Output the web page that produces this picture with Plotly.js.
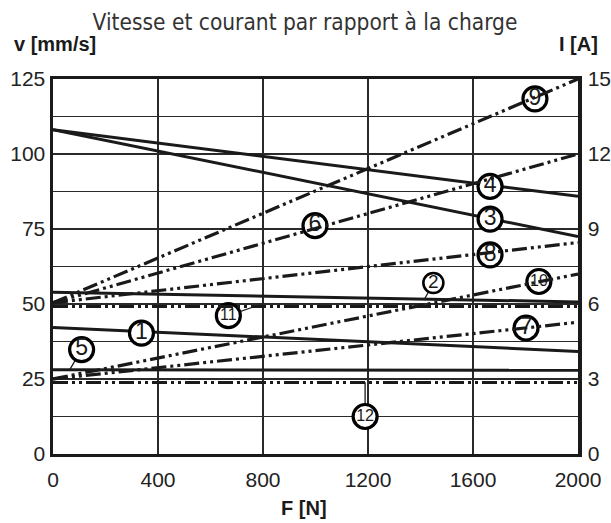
<!DOCTYPE html>
<html>
<head>
<meta charset="utf-8">
<script src="https://cdn.plot.ly/plotly-3.0.1.min.js"></script>
<style>html,body{margin:0;padding:0;background:#fff;}#chart{width:611px;height:523px;}</style>
</head>
<body>
<div id="chart"></div>
<script>
// Load range of the x axis (F [N])
const loadEnds = [0, 2000];

// Speed curves (left axis, v [mm/s]) – solid lines: value at F=0 and F=2000
const speedIds = ["1", "2", "3", "4", "5"];
const speedStart = [42.2, 53.9, 108.1, 108.1, 28.1];
const speedEnd   = [34.2, 50.7, 72.5, 85.9, 27.9];

// Current curves (right axis, I [A]) – dash-dot-dot lines: value at F=0 and F=2000
const currentIds = ["6", "7", "8", "9", "10", "11", "12"];
const currentStart = [6.05, 3.0, 6.05, 6.05, 3.0, 5.9, 2.86];
const currentEnd   = [12.0, 5.27, 8.46, 15.0, 7.2, 5.9, 2.86];

// Circled curve labels (position in F, v)
const labelText = ["1","2","3","4","5","6","7","8","9","10","11","12"];
const labelF = [337, 1449, 1665, 1665, 109, 998, 1802, 1665, 1836, 1851, 668, 1189];
const labelV = [40.3, 57.0, 78.3, 89.2, 34.8, 76.1, 42.0, 66.4, 118.4, 57.5, 46.1, 12.5];

// Leader lines from label to curve (F, v pairs)
const leaderLabels = ["2", "5", "11", "12"];
const leaderF0 = [1449, 109, 668, 1189];
const leaderV0 = [57.0, 34.8, 46.1, 12.5];
const leaderF1 = [1415, 65, 763, 1189];
const leaderV1 = [51.6, 28.3, 49.0, 23.9];

// Tick labels
const xTicks = [0, 400, 800, 1200, 1600, 2000];
const vTicks = [0, 12.5, 25, 37.5, 50, 62.5, 75, 87.5, 100, 112.5, 125];
const vTickText = ["0", "", "25", "", "50", "", "75", "", "100", "", "125"];
const iTicks = [0, 3, 6, 9, 12, 15];

const INK = "#1a1a1a";
const DASH = "15px,4px,3px,4px,3px,4px";
const FONT = "Liberation Sans, Arial, sans-serif";
const traces = [];

speedIds.forEach((id, k) => {
  traces.push({
    type: "scatter", mode: "lines", name: id,
    x: loadEnds, y: [speedStart[k], speedEnd[k]],
    xaxis: "x", yaxis: "y",
    line: {color: INK, width: 3},
    hoverinfo: "skip", showlegend: false
  });
});

currentIds.forEach((id, k) => {
  traces.push({
    type: "scatter", mode: "lines", name: id,
    x: loadEnds, y: [currentStart[k], currentEnd[k]],
    xaxis: "x", yaxis: "y2",
    line: {color: INK, width: 3.2, dash: DASH},
    hoverinfo: "skip", showlegend: false
  });
});

leaderLabels.forEach((id, k) => {
  traces.push({
    type: "scatter", mode: "lines",
    x: [leaderF0[k], leaderF1[k]], y: [leaderV0[k], leaderV1[k]],
    xaxis: "x", yaxis: "y",
    line: {color: INK, width: 1.3},
    hoverinfo: "skip", showlegend: false
  });
});

// circled labels, grouped by circle / text size
function circleTrace(filterFn, size, border, fontSize) {
  const idx = labelText.map((t, i) => i).filter(i => filterFn(labelText[i]));
  return {
    type: "scatter", mode: "markers+text",
    x: idx.map(i => labelF[i]), y: idx.map(i => labelV[i]),
    text: idx.map(i => labelText[i]),
    xaxis: "x", yaxis: "y",
    textposition: "middle center",
    textfont: {family: FONT, size: fontSize, color: INK},
    marker: {size: size, color: "#ffffff", opacity: 1, line: {color: "#000000", width: border}},
    hoverinfo: "skip", showlegend: false, cliponaxis: false
  };
}
traces.push(circleTrace(t => t.length === 1 && t !== "2", 24, 3.2, 23));
traces.push(circleTrace(t => t.length > 1, 24, 3.2, 16));
traces.push(circleTrace(t => t === "2", 20, 2.6, 19));

const tickFont = {family: FONT, size: 21, color: "#222"};
const boldFont = {family: FONT, size: 20, color: "#1a1a1a", weight: "bold"};

const layout = {
  width: 611, height: 523,
  margin: {l: 53, r: 33, t: 79, b: 69},
  paper_bgcolor: "#ffffff", plot_bgcolor: "#ffffff",
  title: {
    text: "Vitesse et courant par rapport à la charge",
    font: {family: "Liberation Sans Narrow, DejaVu Sans Condensed, Roboto, sans-serif", size: 22.5, color: "#333"},
    x: 305 / 611, xanchor: "center", xref: "container",
    y: 1 - 22 / 523, yanchor: "middle", yref: "container"
  },
  xaxis: {
    range: [0, 2000], tickvals: xTicks, ticktext: xTicks.map(String),
    showgrid: true, gridcolor: "#2a2a2a", gridwidth: 1.4,
    showline: true, linecolor: INK, linewidth: 3, mirror: true,
    zeroline: false, ticks: "", ticklabelstandoff: 5,
    tickfont: tickFont, fixedrange: true
  },
  yaxis: {
    range: [0, 125], tickvals: vTicks, ticktext: vTickText,
    showgrid: true, gridcolor: "#2a2a2a", gridwidth: 1.4,
    showline: true, linecolor: INK, linewidth: 3.5,
    zeroline: false, ticks: "", ticklabelstandoff: 0,
    tickfont: tickFont, fixedrange: true
  },
  yaxis2: {
    range: [0, 15], tickvals: iTicks, ticktext: iTicks.map(String),
    overlaying: "y", side: "right",
    showgrid: false, showline: true, linecolor: INK, linewidth: 3.5,
    zeroline: false, ticks: "", ticklabelstandoff: 2,
    tickfont: tickFont, fixedrange: true
  },
  annotations: [
    {text: "v [mm/s]", xref: "paper", yref: "paper", x: -0.078, y: 1.094,
     xanchor: "left", yanchor: "middle", showarrow: false, font: boldFont},
    {text: "I [A]", xref: "paper", yref: "paper", x: 1.042, y: 1.094,
     xanchor: "right", yanchor: "middle", showarrow: false, font: boldFont},
    {text: "F [N]", xref: "paper", yref: "paper", x: 0.478, y: -0.143,
     xanchor: "center", yanchor: "middle", showarrow: false, font: boldFont}
  ],
  showlegend: false
};

Plotly.newPlot("chart", traces, layout, {displayModeBar: false, staticPlot: true});
</script>
</body>
</html>
